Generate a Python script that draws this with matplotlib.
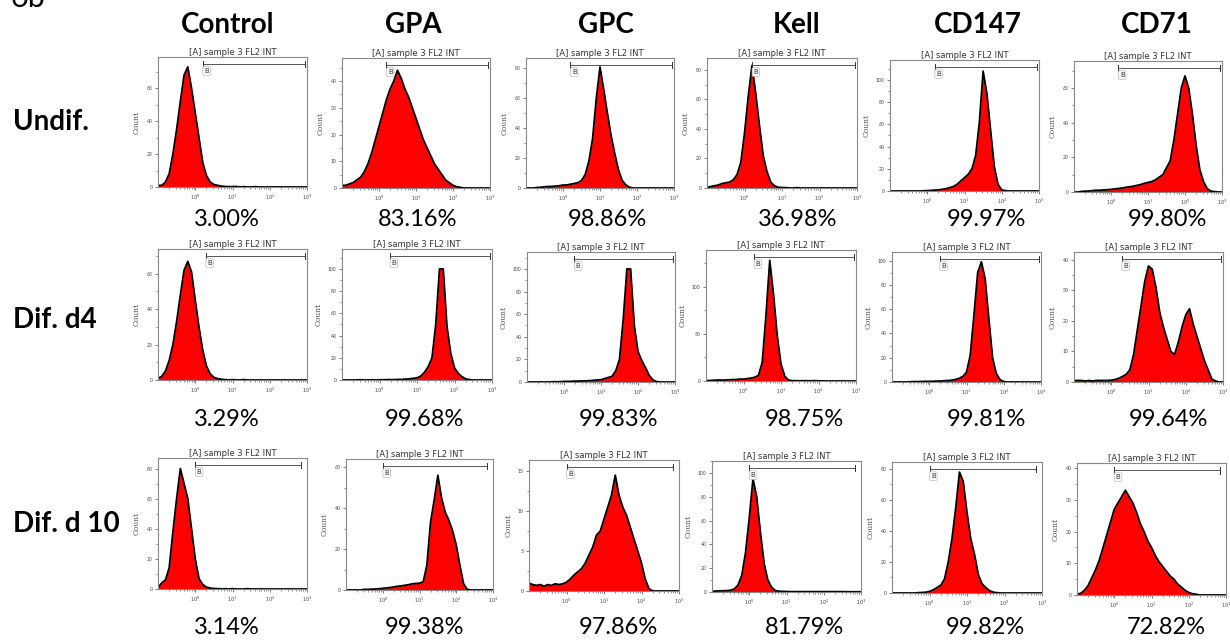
import numpy as np
import matplotlib
matplotlib.use('Agg')
import matplotlib.pyplot as plt
from matplotlib.ticker import MultipleLocator, AutoMinorLocator, FixedLocator

plt.rcParams['font.family'] = ['Lato', 'DejaVu Sans']

# --- data ----------------------------------------------------------------
markers = ['Control', 'GPA', 'GPC', 'Kell', 'CD147', 'CD71']
stages = ['Undif.', 'Dif. d4', 'Dif. d 10']

# log10 fluorescence bin centres, 0.1 decade apart (-1 .. 3)
log_bins = np.round(np.arange(-1.0, 3.001, 0.1), 1)

# Undif.
undif_control = [1, 1, 3, 8, 20, 35, 52, 68, 73, 60,
                 45, 30, 15, 7, 3, 1.5, 1, 0.5, 0.3, 0.2,
                 0.2, 0.3, 0, 0.2, 0, 0, 0.2, 0, 0, 0,
                 0, 0, 0, 0, 0, 0, 0, 0, 0, 0, 0]
undif_gpa = [1, 1, 1.5, 2, 3, 4, 6, 9, 13, 18,
             23, 28, 33, 37, 40, 44, 41, 37, 34, 30,
             26, 22, 18, 15, 12, 9, 7, 5, 3, 2,
             1, 0.5, 0.2, 0, 0, 0, 0, 0, 0, 0, 0]
undif_gpc = [0, 0, 0, 0.3, 0.5, 0.8, 1, 1, 1.3, 1.5,
             2, 2, 2.5, 3, 3.5, 5, 9, 18, 33, 60,
             81, 66, 50, 35, 23, 12, 5, 2, 0.5, 0,
             0, 0, 0, 0, 0, 0, 0, 0, 0, 0, 0]
undif_kell = [0.5, 1, 1.5, 2, 3, 3.5, 4, 5.5, 9, 17,
              37, 62, 83, 64, 42, 22, 11, 4, 1.5, 0.5,
              0.3, 0.2, 0, 0, 0.2, 0, 0, 0, 0, 0,
              0, 0, 0, 0, 0, 0, 0, 0, 0, 0, 0]
undif_cd147 = [0, 0, 0, 0, 0, 0, 0, 0, 0, 0.2,
               0.3, 0.5, 0.8, 1, 1.5, 2, 3, 4, 6, 9,
               12, 15, 20, 32, 62, 108, 88, 55, 22, 6,
               1, 0.3, 0, 0, 0, 0, 0, 0, 0, 0, 0]
undif_cd71 = [0, 0, 0.3, 0.5, 0.5, 0.8, 1, 1, 1.2, 1.3,
              1.5, 1.8, 2, 2.3, 2.7, 3, 3.3, 3.8, 4.3, 5,
              5.5, 6, 7, 8.5, 10, 14, 18, 30, 45, 60,
              67, 60, 45, 27, 13, 6, 2, 0.5, 0.2, 0, 0]

# Dif. d4
d4_control = [1, 2, 5, 11, 20, 33, 48, 62, 67, 61,
              45, 30, 17, 8, 3.5, 1.5, 0.8, 0.4, 0.2, 0,
              0.2, 0, 0, 0.2, 0, 0, 0, 0, 0, 0,
              0, 0, 0, 0, 0, 0, 0, 0, 0, 0, 0]
d4_gpa = [0, 0, 0, 0, 0, 0.2, 0, 0, 0.2, 0,
          0.2, 0.2, 0.3, 0.3, 0.3, 0.5, 0.5, 0.8, 1, 1.5,
          2, 3.5, 7, 12, 20, 50, 100, 100, 48, 24,
          11, 6, 3, 1, 0.3, 0, 0, 0, 0, 0, 0]
d4_gpc = [0, 0, 0, 0, 0, 0, 0, 0.2, 0.2, 0.3,
          0.5, 0.5, 0.6, 0.8, 0.8, 1, 1, 1.2, 1.5, 1.8,
          2, 3, 4, 5, 10, 20, 55, 100, 100, 50,
          27, 19, 13, 6, 2, 0.3, 0, 0, 0, 0, 0]
d4_kell = [0.5, 0.5, 0.8, 1, 1, 1, 1.2, 1.5, 1.5, 2,
           2, 2.5, 3, 4, 6, 20, 70, 128, 92, 48,
           18, 5, 1, 0.3, 0.3, 0.2, 0.3, 0.2, 0.2, 0.3,
           0.2, 0, 0, 0, 0, 0, 0, 0, 0, 0, 0]
d4_cd147 = [0, 0, 0, 0, 0, 0.2, 0.3, 0.3, 0.4, 0.5,
            0.5, 0.6, 0.7, 0.8, 1, 1.2, 1.5, 2, 3, 4.5,
            8, 22, 55, 90, 99, 85, 52, 20, 7, 2,
            0.3, 0, 0, 0, 0, 0, 0, 0, 0, 0, 0]
d4_cd71 = [0.5, 0.5, 0.5, 0.3, 0.5, 0.3, 0.5, 0.5, 0.5, 0.5,
           0.6, 0.8, 1.2, 1.8, 2.5, 4, 9, 17, 25, 33,
           38, 37, 31, 23, 18, 14, 10, 9, 13, 18,
           22, 24, 19, 15, 11, 7, 4, 1, 0.3, 0, 0]

# Dif. d 10
d10_control = [1, 4, 6, 14, 38, 60, 80, 70, 60, 40,
               20, 7, 3, 1.2, 0.6, 0.3, 0.2, 0, 0.2, 0,
               0.2, 0, 0, 0, 0.2, 0, 0, 0, 0, 0,
               0, 0, 0, 0, 0, 0, 0, 0, 0, 0, 0]
d10_gpa = [0, 0, 0, 0, 0, 0.3, 0.3, 0.4, 0.5, 0.6,
           0.8, 1, 1.2, 1.5, 1.8, 2, 2.3, 2.6, 3, 3.2,
           3.3, 4, 12, 33, 44, 56, 45, 38, 34, 29,
           22, 12, 3, 0.3, 0, 0, 0, 0, 0, 0, 0]
d10_gpc = [1, 0.8, 0.7, 0.8, 0.6, 0.8, 0.7, 0.9, 0.8, 0.9,
           1.1, 1.5, 2, 2.4, 2.8, 3.5, 4.5, 5.5, 7, 7.5,
           9, 10.5, 12, 14.5, 12, 10.5, 9.5, 8, 6.5, 5,
           3.5, 1.5, 0.3, 0, 0, 0, 0, 0, 0, 0, 0]
d10_kell = [0.5, 0.8, 1, 1, 1.2, 1.5, 2.5, 6, 14, 33,
            62, 95, 80, 50, 24, 10, 4, 1.2, 0.6, 0.5,
            0.4, 0.3, 0.3, 0.3, 0.3, 0.3, 0.3, 0.3, 0.3, 0.3,
            0.3, 0.3, 0.3, 0.3, 0.3, 0.3, 0.2, 0.2, 0.2, 0.2, 0.2]
d10_cd147 = [0, 0, 0, 0, 0, 0, 0, 0.2, 0.3, 0.5,
             1, 2, 3.5, 5, 9, 20, 35, 55, 78, 72,
             52, 35, 25, 12, 6, 3.5, 1.5, 0.5, 0.2, 0,
             0, 0, 0, 0, 0, 0, 0, 0, 0, 0, 0]
d10_cd71 = [0.3, 0.5, 1.5, 3, 5.5, 8, 11, 15, 19, 23,
            27, 29, 31, 33, 31, 29, 26, 22.5, 20, 17,
            15, 12.5, 10.5, 9, 7.5, 6, 5, 3.5, 2.5, 1.5,
            0.8, 0.4, 0.2, 0, 0, 0, 0, 0, 0, 0, 0]

counts = [
    [undif_control, undif_gpa, undif_gpc, undif_kell, undif_cd147, undif_cd71],
    [d4_control, d4_gpa, d4_gpc, d4_kell, d4_cd147, d4_cd71],
    [d10_control, d10_gpa, d10_gpc, d10_kell, d10_cd147, d10_cd71],
]

# y-axis maximum and tick step of each histogram
y_max = [[79, 48.6, 87, 88, 118, 75.6],
         [74, 118, 115, 139, 107, 42.6],
         [87, 64, 16.4, 110, 84.5, 41.6]]
y_step = [[20, 10, 20, 20, 20, 20],
          [20, 20, 20, 50, 20, 10],
          [20, 20, 5, 20, 20, 10]]

# gate B start (log10) for each stage
gate_start = [0.2, 0.28, 0.0]
gate_end = [2.95, 2.95, 2.85]

positive = [['3.00%', '83.16%', '98.86%', '36.98%', '99.97%', '99.80%'],
            ['3.29%', '99.68%', '99.83%', '98.75%', '99.81%', '99.64%'],
            ['3.14%', '99.38%', '97.86%', '81.79%', '99.82%', '72.82%']]

# --- layout (pixel boxes on a 1230x643 canvas) ----------------------------
W, H = 1230, 643
boxes = [
    [(158, 307, 57, 187), (342, 490, 58, 188), (526, 674, 58, 188),
     (707, 857, 58, 188), (890, 1039, 60, 191), (1074, 1222, 61, 192)],
    [(158, 307, 249, 380), (342, 492, 249, 380), (527, 675, 252, 382),
     (706, 856, 250, 381), (892, 1041, 252, 382), (1074, 1223, 252, 382)],
    [(158, 307, 458, 589), (346, 493, 459, 590), (529, 679, 460, 591),
     (712, 861, 461, 592), (892, 1042, 462, 593), (1077, 1226, 463, 595)],
]
header_x = [228, 413, 606, 797, 978, 1157]
pct_x = [[227, 418, 607, 798, 986, 1167],
         [227, 424, 618, 804, 986, 1168],
         [227, 424, 618, 804, 985, 1166]]
pct_y = [220, 420, 627]
stage_y = [122, 320, 524]

fig = plt.figure(figsize=(W / 100, H / 100), dpi=100)
fig.patch.set_facecolor('white')

minor_x = [d + np.log10(k) for d in range(-1, 3) for k in range(2, 10)]

for r in range(3):
    for c in range(6):
        x0, x1, y0, y1 = boxes[r][c]
        ax = fig.add_axes([x0 / W, 1 - y1 / H, (x1 - x0) / W, (y1 - y0) / H])
        y = counts[r][c]
        ax.fill_between(log_bins, 0, y, color='#ff0000', lw=0)
        ax.plot(log_bins, y, color='black', lw=1.3)
        ax.set_xlim(-1, 3)
        ax.set_ylim(0, y_max[r][c])

        ax.xaxis.set_major_locator(FixedLocator([0, 1, 2, 3]))
        ax.xaxis.set_minor_locator(FixedLocator(minor_x))
        ax.set_xticklabels([r'$10^0$', r'$10^1$', r'$10^2$', r'$10^3$'])
        ax.yaxis.set_major_locator(MultipleLocator(y_step[r][c]))
        ax.yaxis.set_minor_locator(AutoMinorLocator(2))
        ax.tick_params(axis='both', which='major', labelsize=3.6, length=2.5,
                       width=0.6, color='#666', labelcolor='#444', pad=1.5)
        ax.tick_params(axis='both', which='minor', length=1.5, width=0.5, color='#666')
        for s in ax.spines.values():
            s.set_color('#888')
            s.set_linewidth(0.8)

        ax.set_title('[A] sample 3 FL2 INT', fontsize=6, color='#333',
                     pad=1.5, family='DejaVu Sans')
        ax.set_ylabel('Count', fontsize=5.5, color='#555', labelpad=4,
                      family='DejaVu Serif')

        # gate B
        tr = ax.get_xaxis_transform()
        g0, g1, gy = gate_start[r], gate_end[r], 0.945
        ax.plot([g0, g1], [gy, gy], color='#555', lw=0.7, transform=tr)
        for gx in (g0, g1):
            ax.plot([gx, gx], [gy - 0.025, gy + 0.025], color='#333', lw=0.7,
                    transform=tr)
        ax.text(g0 + 0.04, gy - 0.03, 'B', fontsize=5, ha='left', va='top',
                transform=tr, family='DejaVu Sans', color='#333',
                bbox=dict(boxstyle='round,pad=0.2', fc='white', ec='#bbb', lw=0.5))

        fig.text(pct_x[r][c] / W, 1 - pct_y[r] / H, positive[r][c],
                 fontsize=17, ha='center', va='center')

for c, name in enumerate(markers):
    fig.text(header_x[c] / W, 1 - 25 / H, name, fontsize=20, fontweight='bold',
             ha='center', va='center')

for r, name in enumerate(stages):
    fig.text(13 / W, 1 - stage_y[r] / H, name, fontsize=20, fontweight='bold',
             ha='left', va='center')

fig.text(10 / W, 1 - 7 / H, '6b', fontsize=22, ha='left', va='baseline')

fig.savefig('out.png', dpi=100, facecolor='white')
